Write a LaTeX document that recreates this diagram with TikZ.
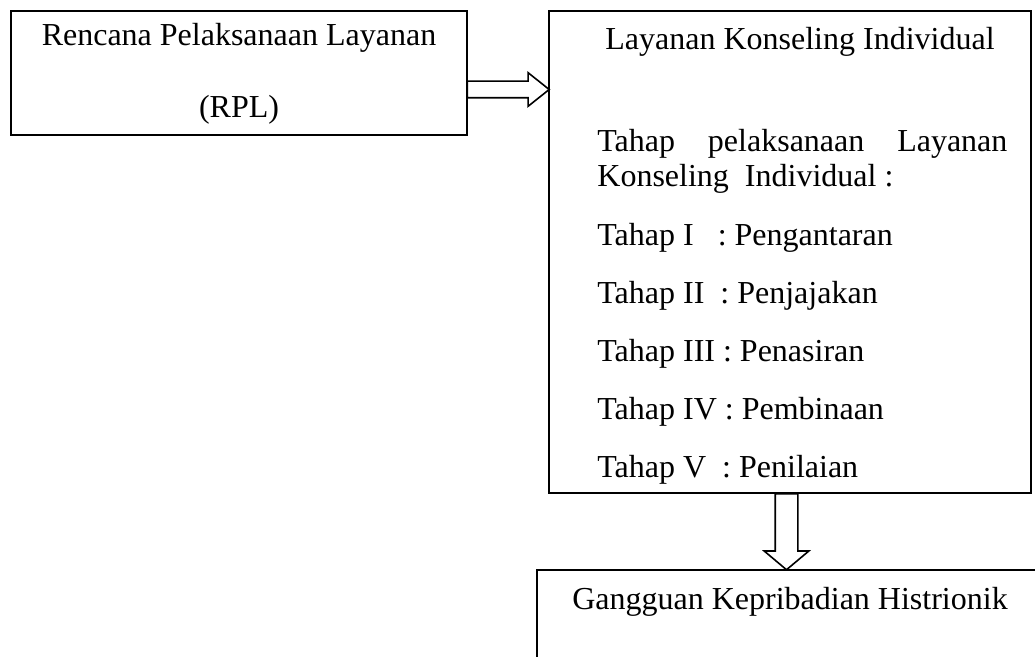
\documentclass[tikz,border=0pt]{standalone}
\usepackage{fontspec}
\setmainfont{Liberation Serif}
\usetikzlibrary{%
    positioning,
    shapes.arrows
}
\tikzset{box/.style = {draw, line width=1pt, inner sep=0pt, outer sep=0pt}}
\tikzset{fatarrow/.style = {single arrow, draw, line width=0.8pt, inner xsep=0pt,
    outer sep=0pt, single arrow head indent=0pt}}
\tikzset{txt/.style = {inner sep=0pt, font=\fontsize{16}{19}\selectfont}}

\begin{document}
\begin{tikzpicture}[x=0.5pt, y=-0.5pt]
    \useasboundingbox (0,0) rectangle (1035,657);

    \node[box, minimum width=228pt, minimum height=62pt]  (rpl)  at (239,73)  {};
    \node[box, minimum width=241pt, minimum height=241pt] (kons) at (790,252) {};
    \node[box, minimum width=265pt, minimum height=75pt]  (hist) at (802,645) {};

    \node[fatarrow, minimum height=41pt, inner ysep=3.75pt,
          single arrow head extend=4.25pt, single arrow tip angle=77]
          (right) at (503,89.5) {};
    \node[fatarrow, rotate=-90, minimum height=38pt, inner ysep=5.25pt,
          single arrow head extend=5.5pt, single arrow tip angle=100]
          (down) at (786.5,527) {};

    \node[txt, anchor=base] (rpl1) at (239,46)  {Rencana Pelaksanaan Layanan};
    \node[txt, anchor=base] (rpl2) at (239,118) {(RPL)};

    \node[txt, anchor=base]      (kons0) at (800,50)  {Layanan Konseling Individual};
    \node[txt, anchor=base west] (kons1) at (597,152) {\hbox to 205pt{Tahap\hfill pelaksanaan\hfill Layanan}};
    \node[txt, anchor=base west] (kons2) at (597,187) {Konseling\ \ Individual :};
    \foreach \Stage/\Label [count=\Row] in {I\ \ \ /Pengantaran, II\ \ /Penjajakan,
            III\ /Penasiran, IV\ /Pembinaan, V\ \ /Penilaian}
        \node[txt, anchor=base west] (stage\Row) at (597,188+58*\Row) {Tahap \Stage: \Label};

    \node[txt, anchor=base] (hist1) at (790,610) {Gangguan Kepribadian Histrionik};
\end{tikzpicture}
\end{document}
